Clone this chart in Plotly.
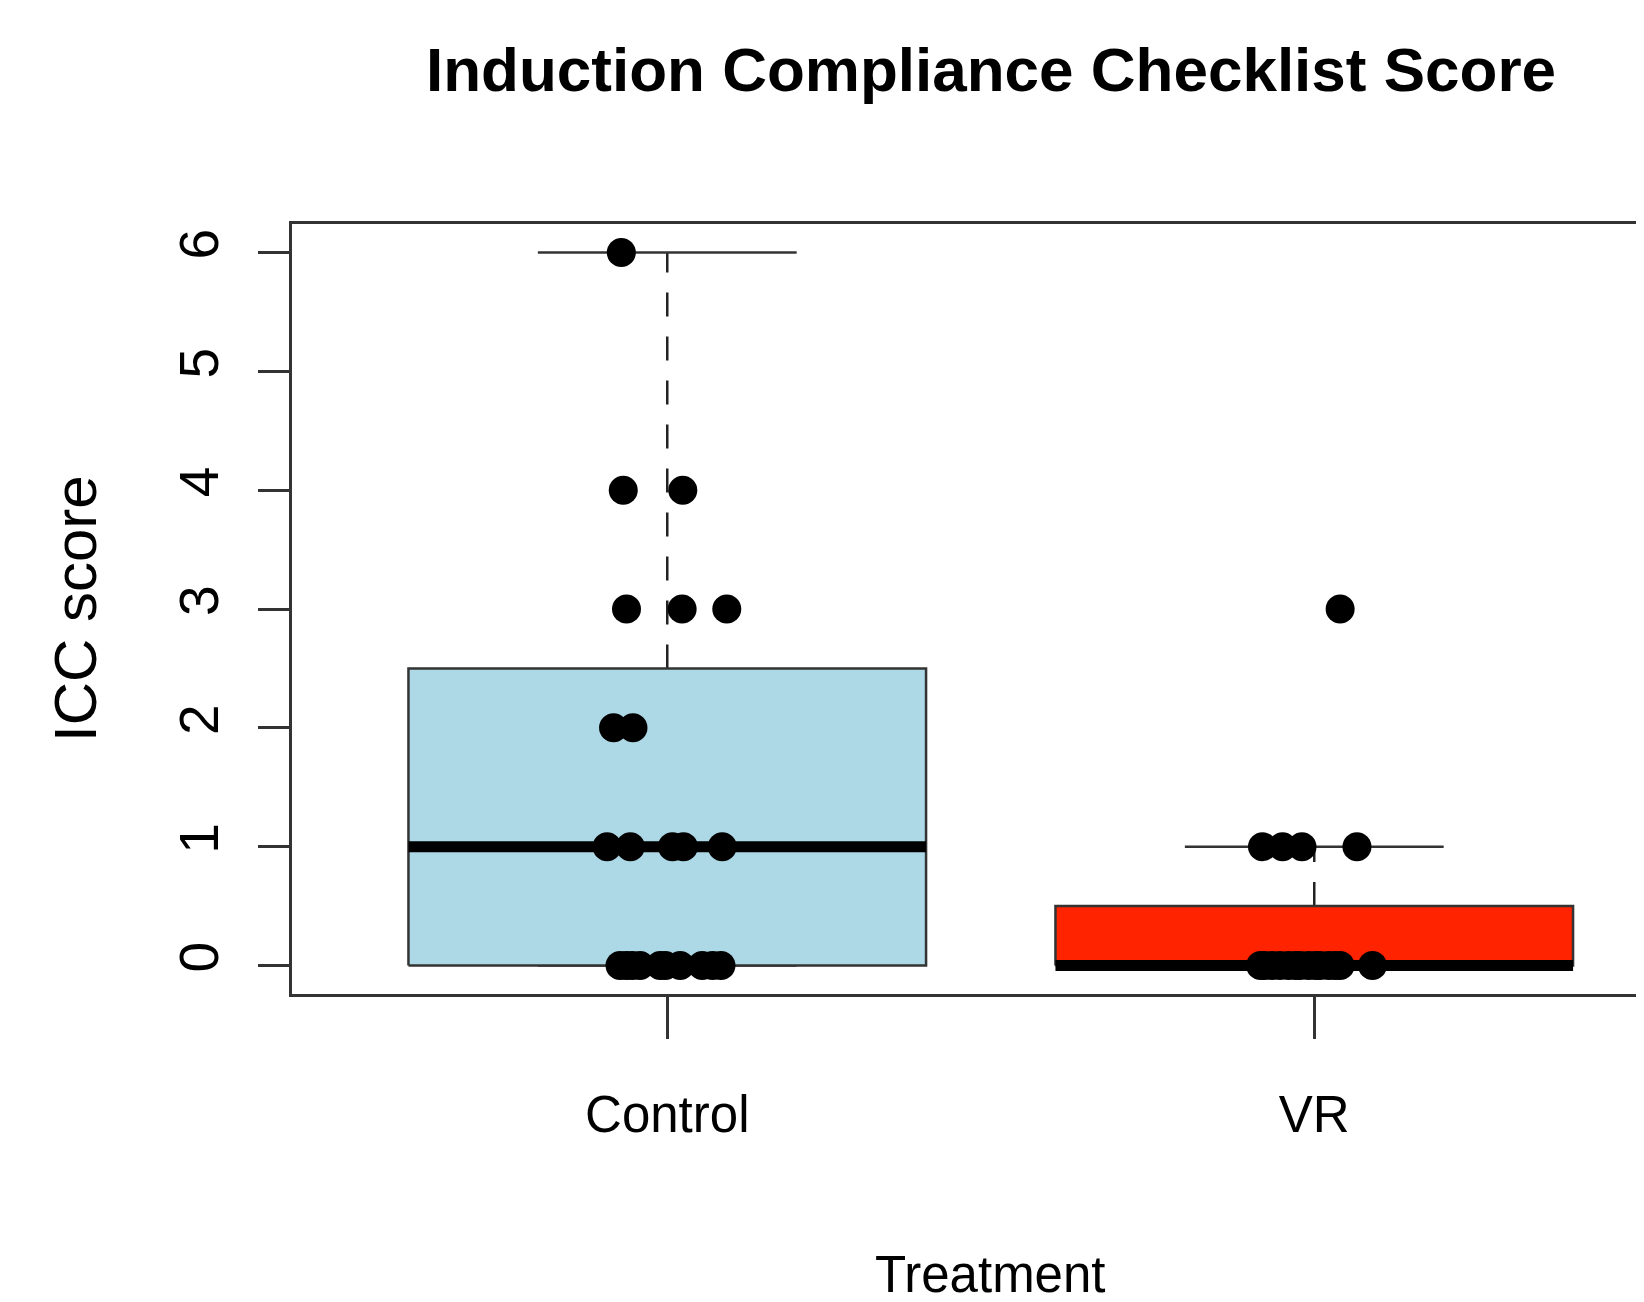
import numpy as np
import plotly.graph_objects as go

# ---- data ----
categories = ["Control", "VR"]
cat_pos = [1, 2]

control_scores = [6, 4, 4, 3, 3, 3, 2, 2, 1, 1, 1, 1, 1,
                  0, 0, 0, 0, 0, 0, 0, 0, 0, 0]
control_jitter = [-0.071, -0.068, 0.024, -0.063, 0.023, 0.092, -0.083, -0.053,
                  -0.093, -0.057, 0.008, 0.025, 0.085,
                  -0.073, -0.063, -0.054, -0.042, -0.011, -0.003, 0.020, 0.054, 0.070, 0.083]

vr_scores = [3, 1, 1, 1, 1,
             0, 0, 0, 0, 0, 0, 0, 0, 0, 0, 0, 0, 0, 0]
vr_jitter = [0.040, -0.080, -0.049, -0.019, 0.066,
             -0.083, -0.076, -0.065, -0.053, -0.040, -0.029, -0.022, -0.009,
             0.002, 0.009, 0.022, 0.032, 0.040, 0.090]

fills = ["#ADD8E6", "#FF2300"]
y_ticks = [0, 1, 2, 3, 4, 5, 6]

title_text = "Induction Compliance Checklist Score"
x_title = "Treatment"
y_title = "ICC score"


def fivenum(v):
    v = sorted(v)
    n = len(v)
    n4 = np.floor((n + 3) / 2) / 2
    d = [1, n4, (n + 1) / 2, n + 1 - n4, n]
    return [0.5 * (v[int(np.floor(i)) - 1] + v[int(np.ceil(i)) - 1]) for i in d]


def box_stats(v):
    _, q1, med, q3, _ = fivenum(v)
    iqr = q3 - q1
    lo = min(x for x in v if x >= q1 - 1.5 * iqr)
    hi = max(x for x in v if x <= q3 + 1.5 * iqr)
    return q1, med, q3, lo, hi


fig = go.Figure()
half = 0.4
staple = 0.2
frame_col = "#333333"

groups = [control_scores, vr_scores]
jitters = [control_jitter, vr_jitter]

for pos, vals, col in zip(cat_pos, groups, fills):
    q1, med, q3, lo, hi = box_stats(vals)
    # whiskers (dashed)
    fig.add_trace(go.Scatter(x=[pos, pos, None, pos, pos], y=[q3, hi, None, q1, lo],
                             mode="lines", line=dict(color="#222222", width=2.5, dash="24px,20px"),
                             hoverinfo="skip", showlegend=False))
    # staples
    fig.add_trace(go.Scatter(x=[pos - staple, pos + staple, None, pos - staple, pos + staple],
                             y=[hi, hi, None, lo, lo], mode="lines",
                             line=dict(color="#333333", width=2.5),
                             hoverinfo="skip", showlegend=False))
    # box
    fig.add_trace(go.Scatter(x=[pos - half, pos + half, pos + half, pos - half, pos - half],
                             y=[q1, q1, q3, q3, q1], mode="lines", fill="toself",
                             fillcolor=col, line=dict(color="#333333", width=2.5),
                             hoverinfo="skip", showlegend=False))
    # median
    fig.add_trace(go.Scatter(x=[pos - half, pos + half], y=[med, med], mode="lines",
                             line=dict(color="black", width=11),
                             hoverinfo="skip", showlegend=False))

for pos, vals, jit in zip(cat_pos, groups, jitters):
    fig.add_trace(go.Scatter(x=[pos + j for j in jit], y=vals, mode="markers",
                             marker=dict(color="black", size=29, line=dict(width=0)),
                             showlegend=False))

# page body has an 8px margin; figure sized so the page fits the window exactly
W, H = 1636, 1294
ml, mt = 284, 216
plot_bottom = 986
mb = H - plot_bottom
px_per_unit = 647
x_lo = 0.42
x_hi = x_lo + (W - ml) / px_per_unit
plot_h = plot_bottom - mt

font = "Liberation Sans, Arial"

fig.update_layout(
    width=W, height=H,
    margin=dict(l=ml, r=0, t=mt, b=mb, autoexpand=False),
    paper_bgcolor="white", plot_bgcolor="white",
    xaxis=dict(range=[x_lo, x_hi], tickvals=cat_pos, ticktext=categories,
               showgrid=False, zeroline=False, showline=True, mirror=True,
               linecolor=frame_col, linewidth=2.5,
               ticks="outside", ticklen=42, tickwidth=2.5, tickcolor=frame_col,
               ticklabelstandoff=32,
               tickfont=dict(family=font, size=51, color="black")),
    yaxis=dict(range=[-0.24, 6.24], tickvals=y_ticks, ticktext=[str(t) for t in y_ticks],
               showgrid=False, zeroline=False, showline=True, mirror=False,
               linecolor=frame_col, linewidth=2.5,
               ticks="outside", ticklen=31, tickwidth=2.5, tickcolor=frame_col,
               tickangle=-90, ticklabelstandoff=18,
               tickfont=dict(family=font, size=55, color="black")),
    annotations=[
        dict(text="<b>" + title_text + "</b>", xref="x", yref="paper", x=1.5,
             y=(plot_bottom - 61) / plot_h, xanchor="center", yanchor="middle", showarrow=False,
             font=dict(family=font, size=62, color="black")),
        dict(text=x_title, xref="x", yref="paper", x=1.5,
             y=-(1266 - plot_bottom) / plot_h, xanchor="center", yanchor="middle", showarrow=False,
             font=dict(family=font, size=51, color="black")),
        dict(text=y_title, xref="paper", yref="paper", x=(67 - ml) / (W - ml), y=0.5,
             xanchor="center", yanchor="middle", textangle=-90, showarrow=False,
             font=dict(family=font, size=60, color="black")),
    ],
)

fig.write_html("out.html")
